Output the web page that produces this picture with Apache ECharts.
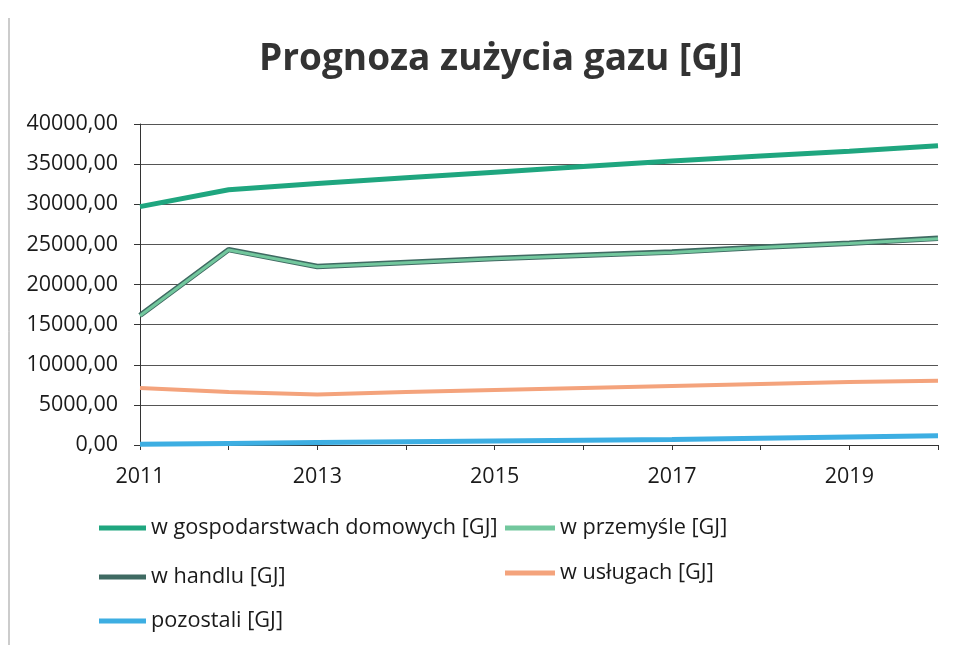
<!DOCTYPE html>
<html><head><meta charset="utf-8">
<script src="https://cdn.jsdelivr.net/npm/echarts@6/dist/echarts.min.js"></script>
<style>html,body{margin:0;padding:0;background:#fff}#c{width:978px;height:645px}</style>
</head><body><div id="c"></div>
<script>
var years = ['2011','2012','2013','2014','2015','2016','2017','2018','2019','2020'];
var gospodarstwa = [29700, 31800, 32600, 33300, 34000, 34700, 35400, 36000, 36600, 37300];
var przemysl = [16100, 24300, 22200, 22700, 23200, 23600, 24000, 24600, 25100, 25700];
var handel = [16150, 24350, 22250, 22750, 23250, 23650, 24050, 24650, 25150, 25750];
var uslugi = [7100, 6600, 6300, 6600, 6850, 7100, 7350, 7600, 7850, 8000];
var pozostali = [100, 200, 300, 400, 500, 600, 700, 850, 1000, 1150];
var yTicks = [0, 5000, 10000, 15000, 20000, 25000, 30000, 35000, 40000];

var names = ['w gospodarstwach domowych [GJ]','w przemyśle [GJ]','w handlu [GJ]','w usługach [GJ]','pozostali [GJ]'];
var colors = ['#1fa67f','#72c79d','#3f6a62','#f4a37c','#3daee2'];
var FONT = '"Open Sans", "Liberation Sans", sans-serif';
var chart = echarts.init(document.getElementById('c'));
function leg(name, left, top, w){
  return {data:[name], left:left, top:top, padding:0, orient:'horizontal', itemWidth:w, itemHeight:5, itemGap:4,
    icon:'rect', textStyle:{fontFamily:FONT, fontSize:21.7, color:'#1a1a1a'}, selectedMode:false};
}
chart.setOption({
  animation:false,
  backgroundColor:'#fff',
  title:{text:'Prognoza zużycia gazu [GJ]', left:254, top:36, textStyle:{fontFamily:FONT, fontSize:37, fontWeight:'bold', color:'#333'}},
  legend:[leg(names[0],99,517,47), leg(names[1],505,517,50), leg(names[2],99,566,47), leg(names[3],505,562,50), leg(names[4],99,610,47)],
  grid:{left:140, right:40, top:124, bottom:200},
  xAxis:{type:'category', data:years, boundaryGap:false,
    axisLine:{lineStyle:{color:'#333', width:1}},
    axisTick:{show:true, interval:0, length:5, lineStyle:{color:'#333'}},
    axisLabel:{interval:1, fontFamily:FONT, fontSize:21.5, color:'#1a1a1a', margin:21},
    splitLine:{show:false}},
  yAxis:{type:'value', min:yTicks[0], max:yTicks[yTicks.length-1], interval:5000,
    axisLine:{show:true, lineStyle:{color:'#333'}},
    axisTick:{show:true, length:6, lineStyle:{color:'#333'}},
    axisLabel:{fontFamily:FONT, fontSize:21.5, color:'#1a1a1a', margin:22,
      formatter:function(v){return v.toFixed(2).replace('.',',');}},
    splitLine:{lineStyle:{color:'#555', width:1}}},
  graphic:[{type:'line', shape:{x1:9,y1:18,x2:9,y2:645}, style:{stroke:'#999', lineWidth:1}}],
  series:[
    {name:names[0], type:'line', data:gospodarstwa, showSymbol:false, lineStyle:{width:5, color:colors[0]}, itemStyle:{color:colors[0]}, z:5},
    {name:names[2], type:'line', data:handel, showSymbol:false, lineStyle:{width:5.5, color:colors[2]}, itemStyle:{color:colors[2]}, z:3},
    {name:names[1], type:'line', data:przemysl, showSymbol:false, lineStyle:{width:3, color:colors[1]}, itemStyle:{color:colors[1]}, z:4},
    {name:names[3], type:'line', data:uslugi, showSymbol:false, lineStyle:{width:4, color:colors[3]}, itemStyle:{color:colors[3]}, z:3},
    {name:names[4], type:'line', data:pozostali, showSymbol:false, lineStyle:{width:5, color:colors[4]}, itemStyle:{color:colors[4]}, z:3}
  ]
});
</script></body></html>
